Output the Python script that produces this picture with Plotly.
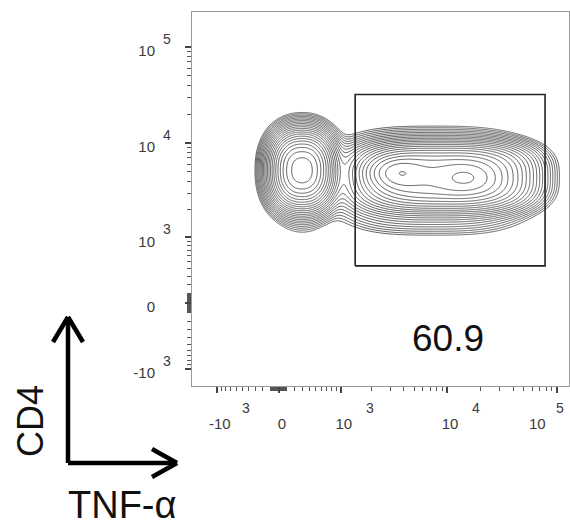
import numpy as np
import plotly.graph_objects as go

# ---- data (raw fluorescence units) ----
tick_values = [-1000, 0, 1000, 10000, 100000]
tick_base = ["-10", "0", "10", "10", "10"]
tick_exp = ["3", "", "3", "4", "5"]

# cell populations: centre (raw), spread (decades), relative weight, shape power (2 = gaussian)
pop_tnf = [297, 297, 9320, 3440, 15120, 7400]
pop_cd4 = [5210, 4330, 4430, 4860, 4330, 4040]
pop_sx = [0.145, 0.13, 0.48, 0.15, 0.18, 0.55]
pop_sy = [0.20, 0.26, 0.21, 0.10, 0.10, 0.32]
pop_w = [1.00, 0.02, 0.42, 0.30, 0.24, 0.04]
pop_k = [2.3, 2, 3, 2, 2, 3]

gate_tnf = [1400, 78000]
gate_cd4 = [440, 32000]
gate_pct = "60.9"

x_label = "TNF-α"
y_label = "CD4"

# ---- biexponential-like display transform ----
CX, CY = 590.0, 435.0
def tx(v):
    return np.arcsinh(np.asarray(v, float) / CX) / np.log(10)
def ty(v):
    return np.arcsinh(np.asarray(v, float) / CY) / np.log(10)

XR = [-0.79, 2.64]
YR = [-0.863, 3.025]

gx = np.linspace(XR[0], XR[1], 380)
gy = np.linspace(YR[0], YR[1], 380)
GX, GY = np.meshgrid(gx, gy)
Z = np.zeros_like(GX)
for cx, cy, sx, sy, w, k in zip(tx(pop_tnf), ty(pop_cd4), pop_sx, pop_sy, pop_w, pop_k):
    q = np.abs((GX - cx) / sx) ** k + np.abs((GY - cy) / sy) ** k
    Z += w * np.exp(-0.5 * q)
LZ = np.log10(Z + 1e-12)
zmax = LZ.max()

fig = go.Figure()
fig.add_trace(go.Contour(
    x=gx, y=gy, z=LZ,
    contours=dict(coloring="lines", start=zmax - 2.6, end=zmax - 0.05, size=0.12),
    colorscale=[[0, "#444444"], [1, "#444444"]],
    line=dict(width=0.85, smoothing=1), showscale=False, hoverinfo="skip"))

gxs = tx([gate_tnf[0], gate_tnf[1], gate_tnf[1], gate_tnf[0], gate_tnf[0]])
gys = ty([gate_cd4[0], gate_cd4[0], gate_cd4[1], gate_cd4[1], gate_cd4[0]])
fig.add_trace(go.Scatter(x=gxs, y=gys, mode="lines",
                         line=dict(color="#222", width=1.6), hoverinfo="skip", showlegend=False))

# minor tick values
mins = []
for e in [1, 2, 3, 4]:
    for m in range(1, 10):
        v = m * 10 ** e
        if v in tick_values:
            continue
        mins.append(v)
        if e <= 3:
            mins.append(-v)

LAST = tick_values[-1]
# the last x label is drawn left of its tick (as in the reference), see annotations below
xt = [b if v != LAST else "" for b, v in zip(tick_base, tick_values)]

font_t = dict(family="Liberation Sans, Arial, sans-serif", size=15, color="#3a3a3a")
axis_common = dict(showgrid=False, zeroline=False, showline=True, linecolor="#999",
                   linewidth=1, mirror=True, ticks="outside", ticklen=6, tickwidth=1.5,
                   tickcolor="#444", tickfont=font_t, tickmode="array",
                   ticklabeloverflow="allow", automargin=False)
fig.update_layout(
    width=570, height=525, margin=dict(l=192, r=1, t=12, b=139, autoexpand=False),
    plot_bgcolor="white", paper_bgcolor="white", showlegend=False,
    xaxis=dict(range=XR, tickvals=tx(tick_values), ticktext=xt,
               ticklabelstandoff=18, ticklabelshift=3,
               minor=dict(tickmode="array", tickvals=tx(mins), ticks="outside",
                          ticklen=4, tickwidth=1, tickcolor="#555"),
               **axis_common),
    yaxis=dict(range=YR, tickvals=ty(tick_values), ticktext=tick_base,
               ticklabelstandoff=27, ticklabelshift=4,
               minor=dict(tickmode="array", tickvals=ty(mins), ticks="outside",
                          ticklen=4, tickwidth=1, tickcolor="#555"),
               **axis_common),
)

# exponents of the tick labels, placed with the axes' own scales
exp_font = dict(family="Liberation Sans, Arial, sans-serif", size=14, color="#3a3a3a")
for v, b, e in zip(tick_values, tick_base, tick_exp):
    if v == LAST:
        fig.add_annotation(x=float(tx(v)), y=0, xref="x", yref="paper", text=b,
                           showarrow=False, xanchor="center", yanchor="middle",
                           xshift=-19, yshift=-37, font=font_t)
    if not e:
        continue
    fig.add_annotation(x=float(tx(v)), y=0, xref="x", yref="paper", text=e,
                       showarrow=False, xanchor="center", yanchor="middle",
                       xshift=29 if v != LAST else 3, yshift=-22, font=exp_font)
    fig.add_annotation(x=0, y=float(ty(v)), xref="paper", yref="y", text=e,
                       showarrow=False, xanchor="center", yanchor="middle",
                       xshift=-25, yshift=8, font=exp_font)

# paper coordinates helpers (plot area: x 192..569, y 12..386 px)
def px(x):
    return (x - 192) / 377.0
def py(y):
    return (386 - y) / 374.0

fig.add_annotation(x=px(448), y=py(338), xref="paper", yref="paper", text=gate_pct,
                   showarrow=False, xanchor="center", yanchor="middle",
                   font=dict(family="Liberation Sans, Arial", size=37, color="#111"))

arrow = dict(color="black", width=4.5)
shapes = [
    (68, 463, 68, 317), (68, 463, 177, 463),
    (68, 317, 53, 342), (68, 317, 83, 342),
    (177, 463, 152, 449), (177, 463, 152, 477),
]
for x0, y0, x1, y1 in shapes:
    fig.add_shape(type="line", xref="paper", yref="paper",
                  x0=px(x0), y0=py(y0), x1=px(x1), y1=py(y1), line=arrow)

fig.add_annotation(x=px(30), y=py(421), xref="paper", yref="paper", text=y_label,
                   textangle=-90, showarrow=False, xanchor="center", yanchor="middle",
                   font=dict(family="Liberation Sans, Arial", size=36, color="#111"))
fig.add_annotation(x=px(122), y=py(505), xref="paper", yref="paper", text=x_label,
                   showarrow=False, xanchor="center", yanchor="middle",
                   font=dict(family="Liberation Sans, Arial", size=38, color="#111"))

fig.write_html("out.html")
